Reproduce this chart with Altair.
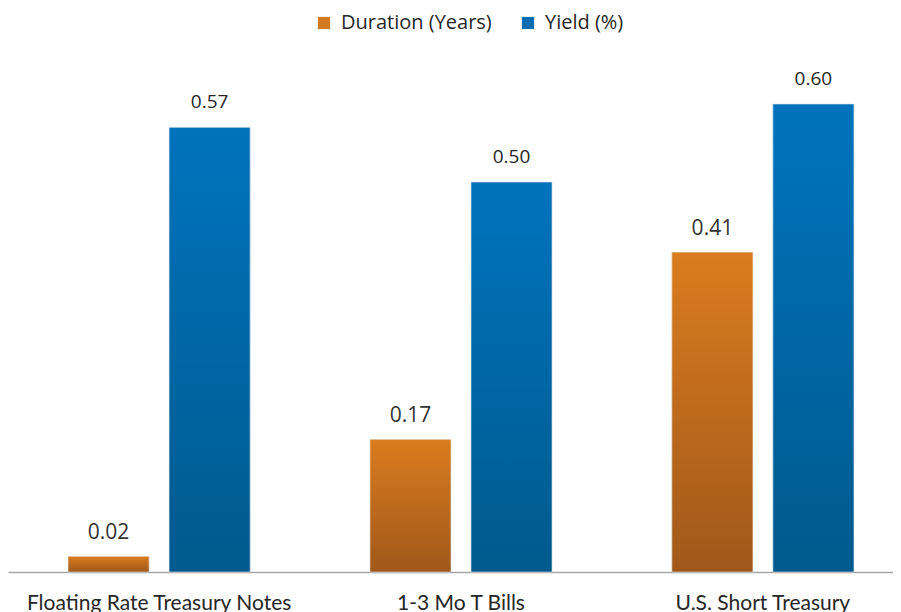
import altair as alt
import pandas as pd

categories = ["Floating Rate Treasury Notes", "1-3 Mo T Bills", "U.S. Short Treasury"]
series_names = ["Duration (Years)", "Yield (%)"]
duration = [0.02, 0.17, 0.41]
yields = [0.57, 0.50, 0.60]

rows = []
for c, d, y in zip(categories, duration, yields):
    rows.append({"category": c, "series": series_names[0], "value": d})
    rows.append({"category": c, "series": series_names[1], "value": y})
df = pd.DataFrame(rows)

grad_orange = alt.LinearGradient(
    gradient="linear", x1=0, x2=0, y1=0, y2=1,
    stops=[alt.GradientStop(offset=0, color="#DA7C1F"),
           alt.GradientStop(offset=1, color="#A0581A")],
)
grad_blue = alt.LinearGradient(
    gradient="linear", x1=0, x2=0, y1=0, y2=1,
    stops=[alt.GradientStop(offset=0, color="#0073BD"),
           alt.GradientStop(offset=1, color="#005A8D")],
)

x_enc = alt.X(
    "category:N", sort=categories,
    scale=alt.Scale(range=[0, 906], paddingInner=0.397, paddingOuter=0.199),
    axis=alt.Axis(title=None, labelAngle=0, ticks=False, domainColor="#A6A6A6",
                  domainWidth=1.5, labelFont="Lato", labelFontSize=21, labelLimit=0,
                  labelColor="#262626", labelPadding=20, labelBaseline="top"),
)
xo_enc = alt.XOffset("series:N", sort=series_names,
                     scale=alt.Scale(paddingInner=0.198, paddingOuter=0))
y_enc = alt.Y("value:Q", scale=alt.Scale(domain=[0, 0.7231], nice=False), axis=None)

base = alt.Chart(df).encode(x=x_enc, xOffset=xo_enc, y=y_enc)

legend_bars = base.mark_bar().encode(
    color=alt.Color(
        "series:N", sort=series_names,
        scale=alt.Scale(domain=series_names, range=["#D27A22", "#0B6CB2"]),
        legend=alt.Legend(title=None, orient="none", legendX=306, legendY=5,
                          direction="horizontal", symbolType="square",
                          symbolSize=150, symbolStrokeWidth=0, labelLimit=0,
                          labelFont="Open Sans", labelFontSize=20,
                          labelColor="#262626", columnPadding=26, labelOffset=7),
    )
)

orange_bars = base.transform_filter(alt.datum.series == series_names[0]).mark_bar(
    color=grad_orange, stroke="#E6E6E6", strokeWidth=0.6)
blue_bars = base.transform_filter(alt.datum.series == series_names[1]).mark_bar(
    color=grad_blue, stroke="#E6E6E6", strokeWidth=0.6)

orange_text = base.transform_filter(alt.datum.series == series_names[0]).mark_text(
    baseline="bottom", dy=-13, font="Open Sans", fontSize=21, color="#333333"
).encode(text=alt.Text("value:Q", format=".2f"))
blue_text = base.transform_filter(alt.datum.series == series_names[1]).mark_text(
    baseline="bottom", dy=-15, font="Open Sans", fontSize=19, fontWeight="normal",
    color="#262626"
).encode(text=alt.Text("value:Q", format=".2f"))

chart = alt.layer(legend_bars, orange_bars, blue_bars, orange_text, blue_text).properties(
    width=885, height=564,
    autosize=alt.AutoSizeParams(type="none"),
    padding={"left": 0, "top": 0, "right": 0, "bottom": 40},
    background="white",
).configure_view(stroke=None)

chart.save("out.html", embed_options={"renderer": "svg", "actions": False})
